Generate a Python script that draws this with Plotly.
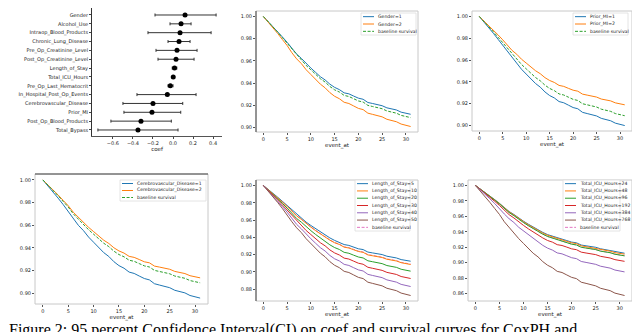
import plotly.graph_objects as go

W, H = 640, 332

# ---- forest plot (coef with 95% CI) ----
covariates = ["Gender", "Alcohol_Use", "Intraop_Blood_Products", "Chronic_Lung_Disease",
              "Pre_Op_Creatinine_Level", "Post_Op_Creatinine_Level", "Length_of_Stay",
              "Total_ICU_Hours", "Pre_Op_Last_Hematocrit", "In_Hospital_Post_Op_Events",
              "Cerebrovascular_Disease", "Prior_MI", "Post_Op_Blood_Products", "Total_Bypass"]
coef = [0.12, 0.08, 0.07, 0.06, 0.04, 0.03, 0.015, 0.002, -0.027, -0.057, -0.20, -0.21, -0.32, -0.35]
ci_lo = [-0.18, -0.03, -0.25, -0.05, -0.17, -0.15, -0.008, -0.004, -0.05, -0.36, -0.50, -0.49, -0.62, -0.75]
ci_hi = [0.43, 0.18, 0.38, 0.17, 0.24, 0.21, 0.038, 0.008, 0.0, 0.23, 0.097, 0.077, -0.017, 0.05]

# ---- survival curves ----
event_at = [0, 1, 2, 3, 4, 5, 6, 7, 8, 9, 10, 11, 12, 13, 14, 15,
            16, 17, 18, 19, 20, 21, 22, 23, 24, 25, 26, 27, 28, 29, 30, 31]

baseline = [1.000, .9955, .991, .986, .981, .976, .970, .965, .961, .956, .952, .948, .944, .941, .937, .934,
            .932, .929, .928, .926, .924, .923, .920, .919, .918, .917, .915, .914, .913, .911, .910, .909]

gender_1 = [1.000, .9956, .9913, .9865, .9816, .9768, .9710, .9662, .9623, .9575, .9536, .9497, .9458, .9429, .9391, .9362,
            .9342, .9313, .9304, .9284, .9265, .9255, .9226, .9217, .9207, .9197, .9178, .9168, .9159, .9139, .9130, .9120]
gender_2 = [1.000, .9951, .9902, .9848, .9793, .9739, .9674, .9619, .9576, .9521, .9478, .9434, .9391, .9358, .9315, .9282,
            .9260, .9228, .9217, .9195, .9173, .9162, .9130, .9119, .9108, .9097, .9075, .9064, .9053, .9032, .9021, .9010]

prior_mi_1 = [1.000, .9951, .9901, .9846, .9791, .9736, .9670, .9615, .9571, .9516, .9472, .9429, .9385, .9352, .9308, .9275,
              .9253, .9220, .9209, .9187, .9165, .9154, .9121, .9110, .9099, .9088, .9066, .9055, .9044, .9022, .9011, .9000]
prior_mi_2 = [1.000, .9960, .9920, .9875, .9831, .9786, .9733, .9688, .9653, .9608, .9573, .9537, .9502, .9475, .9439, .9413,
              .9395, .9368, .9359, .9341, .9324, .9315, .9288, .9279, .9270, .9261, .9243, .9235, .9226, .9208, .9199, .9190]

cereb_1 = [1.000, .9948, .9897, .9839, .9782, .9724, .9656, .9598, .9552, .9495, .9449, .9403, .9357, .9323, .9277, .9242,
           .9219, .9185, .9173, .9150, .9128, .9116, .9082, .9070, .9059, .9047, .9024, .9013, .9001, .8978, .8967, .8955]
cereb_2 = [1.000, .9957, .9914, .9867, .9819, .9772, .9714, .9667, .9629, .9581, .9543, .9505, .9467, .9438, .9400, .9372,
           .9353, .9324, .9315, .9296, .9276, .9267, .9238, .9229, .9219, .9210, .9191, .9181, .9172, .9153, .9143, .9134]

los_5 = [1.000, .9957, .9913, .9865, .9817, .9769, .9711, .9663, .9624, .9576, .9537, .9499, .9460, .9431, .9393, .9364,
         .9344, .9316, .9306, .9287, .9267, .9258, .9229, .9219, .9210, .9200, .9181, .9171, .9161, .9142, .9132, .9123]
los_10 = [1.000, .9955, .9910, .9859, .9809, .9759, .9698, .9648, .9608, .9558, .9518, .9477, .9437, .9407, .9367, .9337,
          .9317, .9286, .9276, .9256, .9236, .9226, .9196, .9186, .9176, .9166, .9146, .9136, .9126, .9106, .9095, .9085]
los_20 = [1.000, .9951, .9902, .9847, .9793, .9738, .9673, .9618, .9575, .9520, .9477, .9433, .9390, .9357, .9313, .9281,
          .9259, .9226, .9215, .9193, .9172, .9161, .9128, .9117, .9106, .9095, .9073, .9063, .9052, .9030, .9019, .9008]
los_30 = [1.000, .9947, .9893, .9834, .9775, .9716, .9645, .9586, .9538, .9479, .9432, .9384, .9337, .9301, .9254, .9219,
          .9195, .9159, .9148, .9124, .9100, .9088, .9053, .9041, .9029, .9017, .8994, .8982, .8970, .8946, .8934, .8923]
los_40 = [1.000, .9942, .9884, .9820, .9756, .9691, .9614, .9550, .9498, .9434, .9383, .9331, .9280, .9241, .9190, .9151,
          .9126, .9087, .9074, .9048, .9023, .9010, .8971, .8958, .8945, .8933, .8907, .8894, .8881, .8855, .8843, .8830]
los_50 = [1.000, .9937, .9874, .9804, .9734, .9664, .9580, .9510, .9454, .9384, .9328, .9272, .9216, .9174, .9118, .9076,
          .9048, .9006, .8992, .8964, .8936, .8922, .8880, .8866, .8852, .8838, .8810, .8796, .8782, .8754, .8740, .8726]

icu_24 = [1.000, .9957, .9913, .9865, .9817, .9768, .9711, .9663, .9624, .9576, .9537, .9498, .9459, .9430, .9392, .9363,
          .9343, .9315, .9305, .9286, .9266, .9257, .9228, .9218, .9209, .9199, .9180, .9170, .9160, .9141, .9131, .9122]
icu_48 = [1.000, .9956, .9912, .9863, .9814, .9765, .9707, .9658, .9619, .9570, .9531, .9491, .9452, .9423, .9384, .9355,
          .9335, .9306, .9296, .9276, .9257, .9247, .9218, .9208, .9198, .9188, .9169, .9159, .9149, .9130, .9120, .9110]
icu_96 = [1.000, .9955, .9910, .9860, .9810, .9760, .9699, .9649, .9609, .9559, .9519, .9479, .9439, .9409, .9369, .9339,
          .9319, .9289, .9279, .9259, .9239, .9229, .9199, .9189, .9179, .9169, .9149, .9139, .9129, .9109, .9098, .9088]
icu_192 = [1.000, .9951, .9903, .9849, .9795, .9741, .9676, .9622, .9579, .9525, .9482, .9438, .9395, .9363, .9320, .9287,
           .9266, .9233, .9222, .9201, .9179, .9168, .9136, .9125, .9114, .9104, .9082, .9071, .9060, .9039, .9028, .9017]
icu_384 = [1.000, .9945, .9889, .9828, .9766, .9705, .9631, .9569, .9520, .9458, .9409, .9360, .9311, .9274, .9224, .9188,
           .9163, .9126, .9114, .9089, .9064, .9052, .9015, .9003, .8991, .8978, .8954, .8941, .8929, .8904, .8892, .8880]
icu_768 = [1.000, .9929, .9859, .9781, .9702, .9624, .9530, .9452, .9389, .9311, .9248, .9185, .9122, .9075, .9013, .8966,
           .8934, .8887, .8872, .8840, .8809, .8793, .8746, .8731, .8715, .8699, .8668, .8652, .8637, .8605, .8590, .8574]

tab = ["#1f77b4", "#ff7f0e", "#2ca02c", "#d62728", "#9467bd", "#8c564b", "#e377c2"]
FONT = "DejaVu Sans"


def xdom(x0, x1):
    return [x0 / W, x1 / W]


def ydom(y0, y1):
    return [1 - y1 / H, 1 - y0 / H]


fig = go.Figure()

# panel 1: forest plot
fig.add_trace(go.Scatter(
    x=coef, y=covariates, mode="markers",
    marker=dict(color="black", size=5),
    error_x=dict(type="data", symmetric=False,
                 array=[h - c for h, c in zip(ci_hi, coef)],
                 arrayminus=[c - l for c, l in zip(coef, ci_lo)],
                 color="#333", thickness=1, width=1.5),
    xaxis="x", yaxis="y", showlegend=False))

# panels 2..6: survival curves
panels = [
    # axis id, box px (x0, y0, x1, y1), series, labels, baseline colour, legend box px
    (2, (248, 3, 410, 124), [gender_1, gender_2], ["Gender=1", "Gender=2"], tab[2], (353, 5, 408, 27)),
    (3, (464, 3, 624, 123), [prior_mi_1, prior_mi_2], ["Prior_MI=1", "Prior_MI=2"], tab[2], (565, 5, 620, 27)),
    (4, (27, 166, 200, 296), [cereb_1, cereb_2],
     ["Cerebrovascular_Disease=1", "Cerebrovascular_Disease=2"], tab[2], (112, 172, 198, 193)),
    (5, (248, 172, 410, 293), [los_5, los_10, los_20, los_30, los_40, los_50],
     ["Length_of_Stay=5", "Length_of_Stay=10", "Length_of_Stay=20", "Length_of_Stay=30",
      "Length_of_Stay=40", "Length_of_Stay=50"], tab[6], (347, 172, 402, 223)),
    (6, (460, 172, 624, 293), [icu_24, icu_48, icu_96, icu_192, icu_384, icu_768],
     ["Total_ICU_Hours=24", "Total_ICU_Hours=48", "Total_ICU_Hours=96", "Total_ICU_Hours=192",
      "Total_ICU_Hours=384", "Total_ICU_Hours=768"], tab[6], (555, 172, 612, 223)),
]

shapes = []
annotations = []
layout = {}

tickfont = dict(family=FONT, size=5, color="#222")

# forest axes
lo_x, hi_x = min(ci_lo), max(ci_hi)
pad = 0.05 * (hi_x - lo_x)
layout["xaxis"] = dict(domain=xdom(84, 214), range=[lo_x - pad, hi_x + pad], anchor="y",
                       tickvals=[-0.6, -0.4, -0.2, 0.0, 0.2, 0.4], tickformat=".1f",
                       ticks="outside", ticklen=2, tickwidth=0.8, tickcolor="#444",
                       showline=True, linecolor="#555", linewidth=0.8, showgrid=False, zeroline=False,
                       tickfont=tickfont, title=dict(text="coef", font=dict(family=FONT, size=5.5, color="#222"),
                                                     standoff=2))
layout["yaxis"] = dict(domain=ydom(0, 128), anchor="x", type="category",
                       categoryorder="array", categoryarray=covariates,
                       range=[len(covariates) - 1 + 0.68, -0.79],
                       ticks="outside", ticklen=2, tickwidth=0.8, tickcolor="#444",
                       showline=True, linecolor="#333", linewidth=0.8, showgrid=False, zeroline=False,
                       tickfont=tickfont)

for ax, box, series, labels, bcol, lbox in panels:
    xa, ya = "x%d" % ax, "y%d" % ax
    # baseline drawn under the many-curve panels, on top for the two-curve ones
    base_trace = go.Scatter(x=event_at, y=baseline, mode="lines",
                            line=dict(color=bcol, width=1, dash="3px,1.6px"),
                            xaxis=xa, yaxis=ya, showlegend=False)
    if len(series) > 2:
        fig.add_trace(base_trace)
    for i, s in enumerate(series):
        fig.add_trace(go.Scatter(x=event_at, y=s, mode="lines", line=dict(color=tab[i], width=1),
                                 xaxis=xa, yaxis=ya, showlegend=False))
    if len(series) <= 2:
        fig.add_trace(base_trace)

    ymin = min(min(s) for s in series + [baseline])
    ymax = max(max(s) for s in series + [baseline])
    yp = 0.05 * (ymax - ymin)
    xp = 0.05 * (event_at[-1] - event_at[0])
    x0, y0, x1, y1 = box
    layout["xaxis%d" % ax] = dict(domain=xdom(x0, x1), anchor=ya, range=[event_at[0] - xp, event_at[-1] + xp],
                                  tickvals=[0, 5, 10, 15, 20, 25, 30], ticks="outside", ticklen=2,
                                  tickwidth=0.8, tickcolor="#555", showline=False, showgrid=False,
                                  zeroline=False, tickfont=tickfont,
                                  title=dict(text="event_at", font=dict(family=FONT, size=5.5, color="#222"),
                                             standoff=0))
    layout["yaxis%d" % ax] = dict(domain=ydom(y0, y1), anchor=xa, range=[ymin - yp, ymax + yp],
                                  dtick=0.02, tick0=0, tickformat=".2f", ticks="outside", ticklen=2,
                                  tickwidth=0.8, tickcolor="#555", showline=False, showgrid=False,
                                  zeroline=False, tickfont=tickfont)
    # axes frame
    shapes.append(dict(type="rect", xref="%s domain" % xa, yref="%s domain" % ya, x0=0, x1=1, y0=0, y1=1,
                       line=dict(color="#c8c8c8", width=1), layer="above"))

    # legend
    lx0, ly0, lx1, ly1 = lbox
    names = labels + ["baseline survival"]
    colors = tab[:len(labels)] + [bcol]
    shapes.append(dict(type="rect", xref="paper", yref="paper", x0=lx0 / W, x1=lx1 / W,
                       y0=1 - ly1 / H, y1=1 - ly0 / H, fillcolor="white",
                       line=dict(color="#dddddd", width=0.8), layer="above"))
    step = (ly1 - ly0) / len(names)
    for i, (nm, col) in enumerate(zip(names, colors)):
        ry = 1 - (ly0 + (i + 0.5) * step) / H
        shapes.append(dict(type="line", xref="paper", yref="paper", x0=(lx0 + 2) / W, x1=(lx0 + 13) / W,
                           y0=ry, y1=ry, layer="above",
                           line=dict(color=col, width=1, dash="3px,1.6px" if nm == "baseline survival" else "solid")))
        annotations.append(dict(x=(lx0 + 15) / W, y=ry, xref="paper", yref="paper", text=nm,
                                showarrow=False, xanchor="left", yanchor="middle",
                                font=dict(family=FONT, size=4.6, color="#222")))

# darker spines that show in the picture
for xr, yr, xs, ys in [("x2 domain", "y2 domain", (0, 0), (0, 1)),
                       ("x5 domain", "y5 domain", (0, 0), (0, 1)),
                       ("x4 domain", "y4 domain", (0, 1), (1, 1))]:
    shapes.append(dict(type="line", xref=xr, yref=yr, x0=xs[0], x1=xs[1], y0=ys[0], y1=ys[1],
                       line=dict(color="#444", width=1), layer="above"))

# caption, sitting on the bottom edge of the page
annotations.append(dict(x=0.0, y=0.0, xref="paper", yref="paper", xanchor="left", yanchor="bottom",
                        showarrow=False, borderpad=0,
                        text="Figure 2: 95 percent Confidence Interval(CI) on coef and survival curves for CoxPH and",
                        font=dict(family="Liberation Serif", size=16, color="black")))

fig.update_layout(width=W, height=H, margin=dict(l=0, r=0, t=0, b=0),
                  paper_bgcolor="white", plot_bgcolor="white",
                  shapes=shapes, annotations=annotations, **layout)

fig.write_html("out.html")
